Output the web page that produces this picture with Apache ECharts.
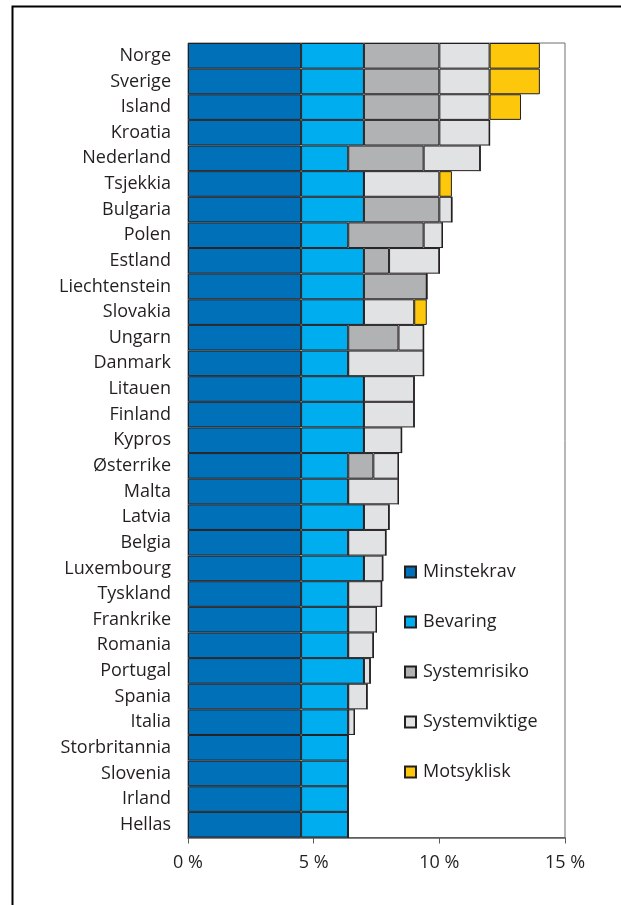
<!DOCTYPE html>
<html>
<head>
<meta charset="utf-8">
<style>
  html, body { margin: 0; padding: 0; background: #fff; }
  #chart { width: 621px; height: 905px; }
</style>
<script src="https://cdn.jsdelivr.net/npm/echarts@6/dist/echarts.min.js"></script>
</head>
<body>
<div id="chart"></div>
<script>
// Capital buffer requirements by country, percent of risk-weighted assets
const countries = [
  'Norge', 'Sverige', 'Island', 'Kroatia', 'Nederland', 'Tsjekkia', 'Bulgaria',
  'Polen', 'Estland', 'Liechtenstein', 'Slovakia', 'Ungarn', 'Danmark', 'Litauen',
  'Finland', 'Kypros', 'Østerrike', 'Malta', 'Latvia', 'Belgia', 'Luxembourg',
  'Tyskland', 'Frankrike', 'Romania', 'Portugal', 'Spania', 'Italia',
  'Storbritannia', 'Slovenia', 'Irland', 'Hellas'
];

const minstekrav = [
  4.5, 4.5, 4.5, 4.5, 4.5, 4.5, 4.5, 4.5, 4.5, 4.5, 4.5, 4.5, 4.5, 4.5, 4.5, 4.5,
  4.5, 4.5, 4.5, 4.5, 4.5, 4.5, 4.5, 4.5, 4.5, 4.5, 4.5, 4.5, 4.5, 4.5, 4.5
];
const bevaring = [
  2.5, 2.5, 2.5, 2.5, 1.875, 2.5, 2.5, 1.875, 2.5, 2.5, 2.5, 1.875, 1.875, 2.5,
  2.5, 2.5, 1.875, 1.875, 2.5, 1.875, 2.5, 1.875, 1.875, 1.875, 2.5, 1.875,
  1.875, 1.875, 1.875, 1.875, 1.875
];
const systemrisiko = [
  3, 3, 3, 3, 3, 0, 3, 3, 1, 2.5, 0, 2, 0, 0, 0, 0,
  1, 0, 0, 0, 0, 0, 0, 0, 0, 0, 0, 0, 0, 0, 0
];
const systemviktige = [
  2, 2, 2, 2, 2.25, 3, 0.5, 0.75, 2, 0, 2, 1, 3, 2, 2, 1.5,
  1, 2, 1, 1.5, 0.75, 1.33, 1.125, 1, 0.25, 0.75, 0.25, 0, 0, 0, 0
];
const motsyklisk = [
  2, 2, 1.25, 0, 0, 0.5, 0, 0, 0, 0, 0.5, 0, 0, 0, 0, 0,
  0, 0, 0, 0, 0, 0, 0, 0, 0, 0, 0, 0, 0, 0, 0
];

const xTicks = [0, 5, 10, 15];

const seriesDefs = [
  { name: 'Minstekrav', data: minstekrav, color: '#0071b9' },
  { name: 'Bevaring', data: bevaring, color: '#00aeef' },
  { name: 'Systemrisiko', data: systemrisiko, color: '#b1b2b4' },
  { name: 'Systemviktige', data: systemviktige, color: '#e1e2e3' },
  { name: 'Motsyklisk', data: motsyklisk, color: '#fdc70c' }
];

const FONT = '"Open Sans", "Noto Sans", sans-serif';
const chart = echarts.init(document.getElementById('chart'), null, { renderer: 'canvas' });

chart.setOption({
  animation: false,
  backgroundColor: '#ffffff',
  textStyle: { fontFamily: FONT },
  graphic: [{
    type: 'rect',
    shape: { x: 12.5, y: 6.5, width: 800, height: 1200 },
    style: { fill: 'none', stroke: '#000', lineWidth: 2 },
    silent: true,
    z: 100
  }],
  grid: {
    left: 188, top: 43, right: 56, bottom: 67.5,
    show: true, borderColor: '#6d6e70', borderWidth: 1, backgroundColor: 'transparent'
  },
  legend: {
    orient: 'vertical',
    left: 399, top: 557,
    itemWidth: 11, itemHeight: 11, itemGap: 30,
    icon: 'rect',
    textStyle: { fontSize: 18, color: '#231f20', fontFamily: FONT, lineHeight: 20, padding: [0, 0, 0, 2] },
    data: seriesDefs.map(s => s.name)
  },
  xAxis: {
    type: 'value',
    min: 0, max: 15, interval: 5,
    splitLine: { show: false },
    axisLine: { show: true, lineStyle: { color: '#58595b', width: 1.5 } },
    axisTick: { show: true, length: 6, lineStyle: { color: '#58595b', width: 1 } },
    axisLabel: {
      margin: 16, fontSize: 18, color: '#231f20', fontFamily: FONT,
      formatter: v => xTicks.indexOf(v) >= 0 ? v + ' %' : ''
    }
  },
  yAxis: {
    type: 'category',
    inverse: true,
    data: countries,
    axisLine: { show: false },
    axisTick: { show: false },
    axisLabel: { margin: 17, fontSize: 18, color: '#231f20', fontFamily: FONT }
  },
  series: seriesDefs.map(s => ({
    name: s.name,
    type: 'bar',
    stack: 'buffer',
    barWidth: '100%',
    data: s.data,
    itemStyle: { color: s.color, borderColor: '#231f20', borderWidth: 1 },
    emphasis: { disabled: true }
  }))
});
</script>
</body>
</html>
